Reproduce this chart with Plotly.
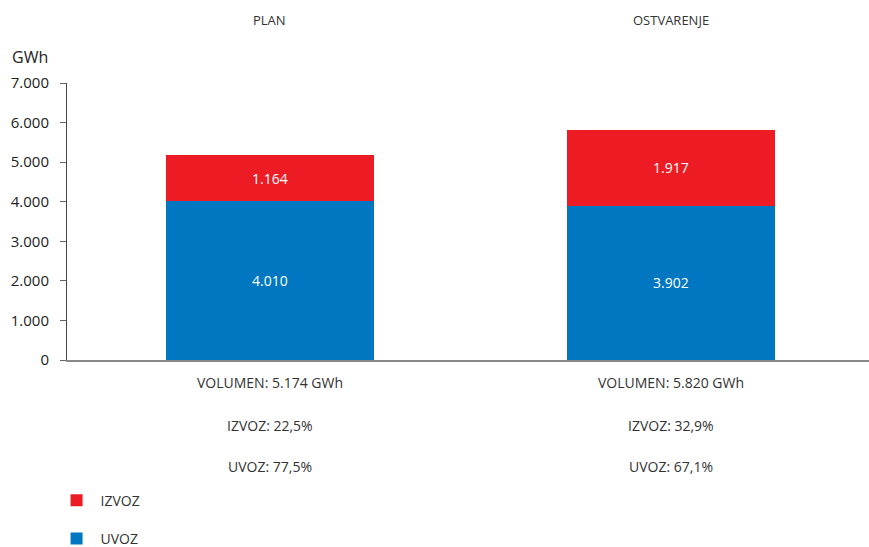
import plotly.graph_objects as go

categories = ["PLAN", "OSTVARENJE"]
uvoz = [4010, 3902]
izvoz = [1164, 1917]
volumen = ["5.174", "5.820"]
izvoz_pct = ["22,5", "32,9"]
uvoz_pct = ["77,5", "67,1"]
y_ticks = [0, 1000, 2000, 3000, 4000, 5000, 6000, 7000]

RED = "#ED1C24"
BLUE = "#0077C0"
FONT = "Open Sans"
TXT = "#333333"

fig = go.Figure()
fig.add_trace(go.Bar(
    x=categories, y=uvoz, name="UVOZ", marker=dict(color=BLUE, line=dict(width=0)),
    texttemplate="%{y:,.0f}", textposition="inside", insidetextanchor="middle",
    textfont=dict(color="white", size=14, family=FONT), legendgroup="u", legendrank=2,
    hoverinfo="skip"))
fig.add_trace(go.Bar(
    x=categories, y=izvoz, name="IZVOZ", marker=dict(color=RED, line=dict(width=0)),
    texttemplate="%{y:,.0f}", textposition="inside", insidetextanchor="middle",
    textfont=dict(color="white", size=14, family=FONT), legendgroup="i", legendrank=1,
    hoverinfo="skip"))

annotations = []
for i, c in enumerate(categories):
    annotations.append(dict(x=c, xref="x", y=1.227, yref="paper", text=c, showarrow=False,
                            font=dict(size=13, color=TXT, family=FONT), yanchor="middle"))
    annotations.append(dict(x=c, xref="x", y=-0.083, yref="paper",
                            text=f"VOLUMEN: {volumen[i]} GWh", showarrow=False,
                            font=dict(size=14, color=TXT, family=FONT), yanchor="middle"))
    annotations.append(dict(x=c, xref="x", y=-0.238, yref="paper",
                            text=f"IZVOZ: {izvoz_pct[i]}%", showarrow=False,
                            font=dict(size=14, color=TXT, family=FONT), yanchor="middle"))
    annotations.append(dict(x=c, xref="x", y=-0.386, yref="paper",
                            text=f"UVOZ: {uvoz_pct[i]}%", showarrow=False,
                            font=dict(size=14, color=TXT, family=FONT), yanchor="middle"))
annotations.append(dict(x=-0.046, xref="paper", y=1.094, yref="paper", text="GWh",
                        showarrow=False, font=dict(size=16, color="#222222", family=FONT),
                        yanchor="middle", xanchor="center"))

fig.update_layout(
    width=869, height=547,
    margin=dict(l=67, r=0, t=83, b=187, pad=0, autoexpand=False),
    paper_bgcolor="white", plot_bgcolor="white",
    barmode="stack", bargap=0.48,
    separators=",.",
    font=dict(family=FONT, size=13, color=TXT),
    showlegend=True,
    legend=dict(x=-0.018, xanchor="left", y=-0.45, yanchor="top",
                traceorder="grouped", tracegroupgap=17,
                font=dict(size=14, color=TXT, family=FONT), itemwidth=38),
    xaxis=dict(range=[-0.506, 1.494], showticklabels=False, showline=True,
               linecolor="#888888", linewidth=2, ticks="", showgrid=False, zeroline=False),
    yaxis=dict(range=[0, 7000], tickvals=y_ticks, tickformat=",d", showline=True,
               linecolor="#444444", linewidth=1, ticks="outside", ticklen=6,
               tickcolor="#666666", showgrid=False, zeroline=False, ticklabelstandoff=8,
               tickfont=dict(size=15, color="#222222", family=FONT)),
    annotations=annotations,
)

fig.write_html("out.html", post_script="document.body.style.margin='0';",
               config={"displayModeBar": False})
